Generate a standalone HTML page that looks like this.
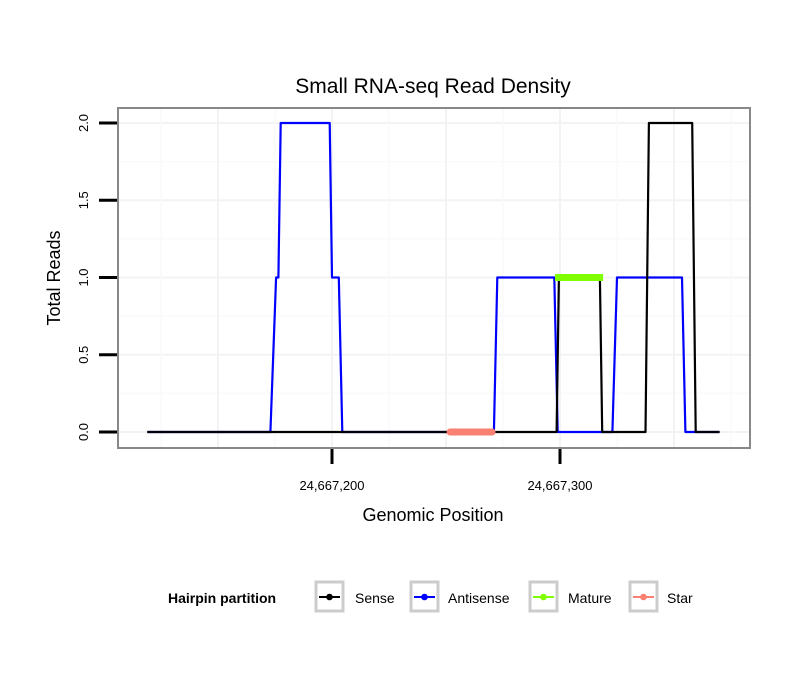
<!DOCTYPE html>
<html><head><meta charset="utf-8"><style>
body{margin:0;background:#fff}
svg{display:block;font-family:"Liberation Sans",sans-serif}
</style></head><body>
<svg id="chart" width="810" height="690">
<text x="433" y="93" font-size="21" text-anchor="middle">Small RNA-seq Read Density</text>
<g id="grid"></g>
<g id="series"></g>
<rect x="118" y="108" width="632" height="340" fill="none" stroke="#888" stroke-width="2"/>
<g id="axes"></g>
<text x="433" y="521" font-size="18" text-anchor="middle">Genomic Position</text>
<text transform="translate(60,278) rotate(-90)" font-size="18" text-anchor="middle">Total Reads</text>
<g id="legend">
<text x="168" y="603" font-size="14" font-weight="bold">Hairpin partition</text>
</g>
</svg>
<script>
const xTicks=[24667200,24667300];
const xTickLabels=["24,667,200","24,667,300"];
const yTicks=[0,0.5,1,1.5,2];
const yTickLabels=["0.0","0.5","1.0","1.5","2.0"];
const antisenseX=[119,173,175.5,176.5,177.5,199,200,203,204.5,271,272.5,297.5,299,323,325,353.5,355,370];
const antisenseY=[0,0,1,1,2,2,1,1,0,0,1,1,0,0,1,1,0,0];
const senseX=[119,298.5,299.5,317.5,318.5,337.5,339,358,359.5,370];
const senseY=[0,0,1,1,0,0,2,2,0,0];
const starRange=[251.8,270.2];const starValue=0;
const matureRange=[297.8,318.9];const matureValue=1;
const legendLabels=["Sense","Antisense","Mature","Star"];
const legendColors=["#000","#0000ff","#7fff00","#fa8072"];
const BASE=24667000;
const NS="http://www.w3.org/2000/svg";
function X(p){return 332+((p>100000?p-BASE:p)-200)*2.28;}
function Y(v){return 432-v*154.5;}
function mk(tag,attrs,parent){const e=document.createElementNS(NS,tag);for(const k in attrs)e.setAttribute(k,attrs[k]);parent.appendChild(e);return e;}
const grid=document.getElementById('grid'),ser=document.getElementById('series'),axes=document.getElementById('axes');
for(let v=0;v<=2.01;v+=0.25){const l=mk('line',{x1:118,x2:750,y1:Y(v),y2:Y(v),stroke:v%0.5===0?'#f3f3f3':'#fafafa','stroke-width':v%0.5===0?2:1.5},grid);

}
for(let p=125;p<=375;p+=25){const l=mk('line',{x1:X(p),x2:X(p),y1:108,y2:448,stroke:p%50===0?'#f3f3f3':'#fafafa','stroke-width':p%50===0?2:1.5},grid);

}
function path(xs,ys,color,name){let d='';xs.forEach((x,i)=>{d+=(i?'L':'M')+X(x).toFixed(1)+','+Y(ys[i]).toFixed(1);});
const p=mk('path',{d:d,fill:'none',stroke:color,'stroke-width':2.2,'stroke-linejoin':'round'},ser);

}
path(antisenseX,antisenseY,'#0000ff','antisense-line');
path(senseX,senseY,'#000','sense-line');
const st=mk('line',{x1:X(starRange[0]),x2:X(starRange[1]),y1:Y(starValue),y2:Y(starValue),stroke:'#fa8072','stroke-width':7,'stroke-linecap':'round'},ser);


const mt=mk('line',{x1:X(matureRange[0]),x2:X(matureRange[1]),y1:Y(matureValue),y2:Y(matureValue),stroke:'#7fff00','stroke-width':7},ser);


yTicks.forEach((v,i)=>{const t=mk('line',{x1:99,x2:117,y1:Y(v),y2:Y(v),stroke:'#000','stroke-width':3},axes);


const tx=mk('text',{transform:`translate(${88},${Y(v)}) rotate(-90)`,'font-size':13,'text-anchor':'middle'},axes);tx.textContent=yTickLabels[i];

});
xTicks.forEach((p,i)=>{const t=mk('line',{x1:X(p),x2:X(p),y1:449,y2:464,stroke:'#000','stroke-width':3},axes);


const tx=mk('text',{x:X(p),y:490,'font-size':13,'text-anchor':'middle'},axes);tx.textContent=xTickLabels[i];

});
const lg=document.getElementById('legend');
const boxX=[314,409,528,628],txtX=[355,448,568,667];
legendLabels.forEach((lab,i)=>{const r=mk('rect',{x:boxX[i]+2,y:582,width:27,height:29,fill:'#fff',stroke:'#ccc','stroke-width':3},lg);


mk('line',{x1:boxX[i]+5,x2:boxX[i]+26,y1:597,y2:597,stroke:legendColors[i],'stroke-width':2},lg);
mk('circle',{cx:boxX[i]+15.5,cy:597,r:3.3,fill:legendColors[i]},lg);
const t=mk('text',{x:txtX[i],y:603,'font-size':14},lg);t.textContent=lab;

});
</script>
</body></html>
